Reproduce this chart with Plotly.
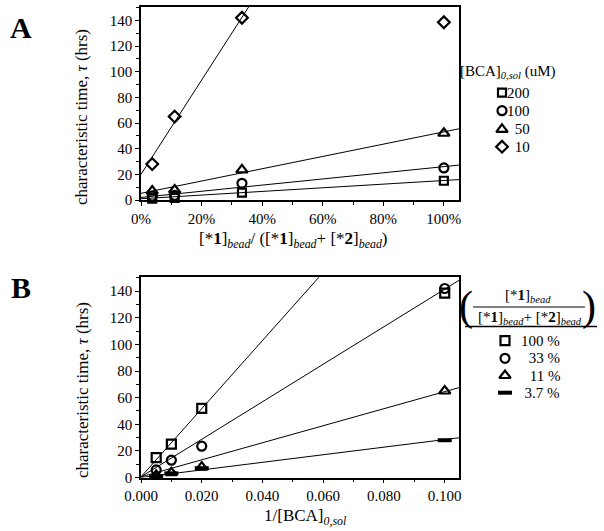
import plotly.graph_objects as go

W, H = 604, 531
FONT = "Liberation Serif, Times New Roman, serif"

# ---------------- data ----------------
bead_frac = [1/27, 1/9, 1/3, 1.0]            # [*1]/([*1]+[*2])
conc_uM = [200, 100, 50, 10]                  # [BCA]0,sol
conc_labels = ["200", "100", " 50", " 10"]
tau_200 = [1.0, 1.6, 5.7, 15.0]
tau_100 = [3.1, 3.6, 13.0, 25.0]
tau_50 = [7.0, 7.8, 23.5, 52.0]
tau_10 = [28.0, 65.0, 142.0, 138.5]
tau_by_conc = [tau_200, tau_100, tau_50, tau_10]

# linear fits (intercept, slope)
fitA_intercept = [1.0, 2.0, 5.2, 20.0]
fitA_slope = [14.2, 24.0, 47.9, 367.0]
fracB_order = [3, 2, 1, 0]                    # indices into bead_frac: 100 %, 33 %, 11 %, 3.7 %
fracB_labels = ["100 %", " 33 %", " 11 %", "  3.7 %"]
fitB_intercept = [0.5, 0.5, 0.5, 0.0]
fitB_slope = [2560.0, 1410.0, 640.0, 285.0]

xA_max, xB_max, y_max = 1.05, 0.1047, 150.4

symA = ["square-open", "circle-open", "triangle-up-open", "diamond-open"]
sizeA = [8, 9, 10, 9]
symB = ["square-open", "circle-open", "triangle-up-open", "line-ew"]
sizeB = [9, 9, 10, 10]

fig = go.Figure()

def px_x(p):
    return p / W

def px_y(p):
    return 1 - p / H

# ---------------- panel A ----------------
for i, c in enumerate(conc_uM):
    x0, x1 = 0.0, xA_max
    fig.add_trace(go.Scatter(x=[x0, x1], y=[fitA_intercept[i] + fitA_slope[i] * x0,
                                          fitA_intercept[i] + fitA_slope[i] * x1],
                             mode="lines", line=dict(color="black", width=1),
                             xaxis="x", yaxis="y", showlegend=False, hoverinfo="skip"))
for i, c in enumerate(conc_uM):
    fig.add_trace(go.Scatter(x=bead_frac, y=tau_by_conc[i], mode="markers",
                             name=f"{c} uM",
                             marker=dict(symbol=symA[i], size=sizeA[i], color="black",
                                         line=dict(color="black", width=2.2)),
                             xaxis="x", yaxis="y", showlegend=False, cliponaxis=False))

# ---------------- panel B ----------------
invc = [1.0 / c for c in conc_uM]
for k, j in enumerate(fracB_order):
    x0, x1 = 0.0, xB_max
    fig.add_trace(go.Scatter(x=[x0, x1], y=[fitB_intercept[k] + fitB_slope[k] * x0,
                                          fitB_intercept[k] + fitB_slope[k] * x1],
                             mode="lines", line=dict(color="black", width=1),
                             xaxis="x2", yaxis="y2", showlegend=False, hoverinfo="skip"))
for k, j in enumerate(fracB_order):
    ys = [tau_by_conc[i][j] for i in range(len(conc_uM))]
    mk = dict(symbol=symB[k], size=sizeB[k], color="black",
              line=dict(color="black", width=4 if symB[k] == "line-ew" else 2.2))
    fig.add_trace(go.Scatter(x=invc, y=ys, mode="markers", name=fracB_labels[k].strip(),
                             marker=mk, xaxis="x2", yaxis="y2", showlegend=False,
                             cliponaxis=False))

# ---------------- legends (drawn on a hidden pixel-space axis) ----------------
legA_x, legA_y = 502, [92.7, 110.7, 129.3, 146.7]
legB_x, legB_y = 505, [340.7, 358.3, 375.5, 392.7]
for i in range(4):
    fig.add_trace(go.Scatter(x=[legA_x], y=[legA_y[i]], mode="markers",
                             marker=dict(symbol=symA[i], size=sizeA[i], color="black",
                                         line=dict(color="black", width=2.2)),
                             xaxis="x3", yaxis="y3", showlegend=False, hoverinfo="skip"))
    fig.add_trace(go.Scatter(x=[legB_x], y=[legB_y[i]], mode="markers",
                             marker=dict(symbol=symB[i], size=sizeB[i], color="black",
                                         line=dict(color="black", width=4 if symB[i] == "line-ew" else 2.2)),
                             xaxis="x3", yaxis="y3", showlegend=False, hoverinfo="skip"))

axis_common = dict(showline=True, linecolor="black", linewidth=1.5, mirror=True,
                   ticks="outside", ticklen=4, tickwidth=1, tickcolor="black",
                   showgrid=False, zeroline=False, automargin=False,
                   tickfont=dict(family=FONT, size=15, color="black"))

dom_x = [141 / W, 459 / W]
fig.update_layout(
    template="none",
    width=W, height=H, margin=dict(l=0, r=0, t=0, b=0, autoexpand=False),
    paper_bgcolor="white", plot_bgcolor="rgba(0,0,0,0)",
    font=dict(family=FONT, color="black", size=15),
    showlegend=False,
    xaxis=dict(domain=dom_x, range=[0, xA_max], tick0=0, dtick=0.2,
               tickformat=".0%", minor=dict(dtick=0.1, ticks="outside", ticklen=3,
                                            tickcolor="black"),
               anchor="y", **axis_common),
    yaxis=dict(domain=[px_y(200), px_y(7)], range=[0, y_max], tick0=0, dtick=20,
               minor=dict(dtick=10, ticks="outside", ticklen=3, tickcolor="black"),
               anchor="x", **axis_common),
    xaxis2=dict(domain=dom_x, range=[0, xB_max], tick0=0, dtick=0.02,
                tickformat=".3f", minor=dict(dtick=0.01, ticks="outside", ticklen=3,
                                             tickcolor="black"),
                anchor="y2", **axis_common),
    yaxis2=dict(domain=[px_y(477.5), px_y(277.3)], range=[0, y_max], tick0=0, dtick=20,
                minor=dict(dtick=10, ticks="outside", ticklen=3, tickcolor="black"),
                anchor="x2", **axis_common),
    xaxis3=dict(domain=[0, 1], range=[0, W], visible=False, anchor="y3"),
    yaxis3=dict(domain=[0, 1], range=[H, 0], visible=False, anchor="x3"),
)

ann = []
def text(x, y, s, size, **kw):
    d = dict(x=px_x(x), y=px_y(y), xref="paper", yref="paper", text=s, showarrow=False,
             xanchor="center", yanchor="middle",
             font=dict(family=FONT, size=size, color="black"))
    d.update(kw)
    ann.append(d)

# panel letters
text(21, 28, "<b>A</b>", 30)
text(21, 287, "<b>B</b>", 30)
# axis titles
text(82, 117, "characteristic time, <i>τ</i> (hrs)", 17, textangle=-90)
text(82, 390, "characteristic time, <i>τ</i> (hrs)", 17, textangle=-90)
text(293, 240, "[*<b>1</b>]<sub><i>bead</i></sub>/ ([*<b>1</b>]<sub><i>bead</i></sub>+ [*<b>2</b>]<sub><i>bead</i></sub>)", 17)
text(305, 517, "1/[BCA]<sub><i>0,sol</i></sub>", 17)
# legend A
text(508, 72, "[BCA]<sub><i>0,sol</i></sub> (uM)", 15)
for i in range(4):
    text(532, legA_y[i], conc_labels[i], 15, xanchor="right")
# legend B
text(528, 296, "[*<b>1</b>]<sub><i>bead</i></sub>", 15)
text(530, 318, "[*<b>1</b>]<sub><i>bead</i></sub>+ [*<b>2</b>]<sub><i>bead</i></sub>", 15)
text(466, 306, "(", 42)
text(589, 306, ")", 42)
for i in range(4):
    text(562, legB_y[i], fracB_labels[i], 15, xanchor="right")
fig.update_layout(annotations=ann)

fig.add_shape(type="line", xref="paper", yref="paper", x0=px_x(473), x1=px_x(585),
              y0=px_y(307), y1=px_y(307), line=dict(color="black", width=1))
fig.add_shape(type="line", xref="paper", yref="paper", x0=px_x(465), x1=px_x(597),
              y0=px_y(326.5), y1=px_y(326.5), line=dict(color="black", width=1.5))

fig.write_html("out.html", config={"displayModeBar": False},
               post_script="document.body.style.margin='0px';")
